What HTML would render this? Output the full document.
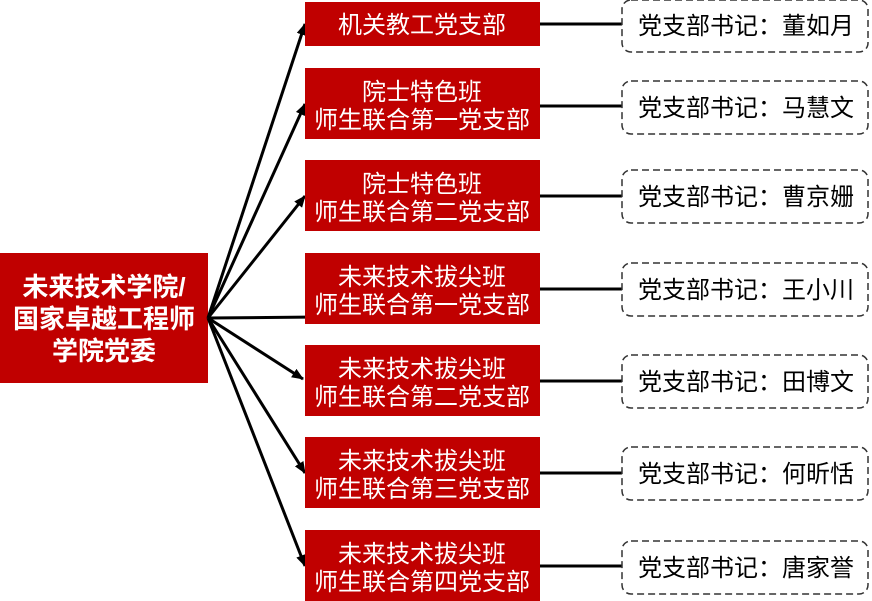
<!DOCTYPE html>
<html><head><meta charset="utf-8"><style>
html,body{margin:0;padding:0;background:#fff;}
svg{display:block;font-family:"Liberation Sans","Noto Sans CJK SC",sans-serif;}
</style></head><body>
<svg width="872" height="601" viewBox="0 0 872 601" xmlns="http://www.w3.org/2000/svg">
<defs><marker id="a" markerWidth="12" markerHeight="10" refX="11" refY="5" orient="auto" markerUnits="userSpaceOnUse"><path d="M0,0 L12,5 L0,10 Z" fill="#000"/></marker></defs>
<rect x="0" y="253" width="208" height="130" fill="#C00000"/>
<g fill="#fff" font-size="26" font-weight="bold" text-anchor="middle">
<text x="104" y="296">未来技术学院/</text>
<text x="104" y="328">国家卓越工程师</text>
<text x="104" y="360">学院党委</text>
</g>
<g stroke="#000" stroke-width="3" fill="none" marker-end="url(#a)">
<line x1="208" y1="318" x2="305" y2="24"/>
<line x1="208" y1="318" x2="305" y2="104"/>
<line x1="208" y1="318" x2="305" y2="196"/>
<line x1="208" y1="318" x2="318" y2="317"/>
<line x1="208" y1="318" x2="303" y2="379"/>
<line x1="208" y1="318" x2="305" y2="473"/>
<line x1="208" y1="318" x2="305" y2="566"/>
</g>
<g fill="#C00000">
<rect x="305" y="2" width="235" height="44"/>
<rect x="305" y="68" width="235" height="71"/>
<rect x="305" y="160" width="235" height="71"/>
<rect x="305" y="253" width="235" height="71"/>
<rect x="305" y="345" width="235" height="71"/>
<rect x="305" y="437" width="235" height="71"/>
<rect x="305" y="530" width="235" height="71"/>
</g>
<g fill="#fff" font-size="24" text-anchor="middle">
<text x="422" y="33">机关教工党支部</text>
<text x="422" y="100">院士特色班</text><text x="422" y="128">师生联合第一党支部</text>
<text x="422" y="192">院士特色班</text><text x="422" y="220">师生联合第二党支部</text>
<text x="422" y="285">未来技术拔尖班</text><text x="422" y="313">师生联合第一党支部</text>
<text x="422" y="377">未来技术拔尖班</text><text x="422" y="405">师生联合第二党支部</text>
<text x="422" y="469">未来技术拔尖班</text><text x="422" y="497">师生联合第三党支部</text>
<text x="422" y="562">未来技术拔尖班</text><text x="422" y="590">师生联合第四党支部</text>
</g>
<g stroke="#000" stroke-width="3">
<line x1="540" y1="24" x2="622" y2="24"/>
<line x1="540" y1="106" x2="622" y2="106"/>
<line x1="540" y1="196" x2="622" y2="196"/>
<line x1="540" y1="289" x2="622" y2="289"/>
<line x1="540" y1="381" x2="622" y2="381"/>
<line x1="540" y1="473" x2="622" y2="473"/>
<line x1="540" y1="566" x2="622" y2="566"/>
</g>
<g fill="#fff" stroke="#333" stroke-width="1.5" stroke-dasharray="7,4">
<rect x="622" y="0" width="246" height="52" rx="9"/>
<rect x="622" y="81" width="246" height="53" rx="9"/>
<rect x="622" y="170" width="246" height="53" rx="9"/>
<rect x="622" y="263" width="246" height="53" rx="9"/>
<rect x="622" y="355" width="246" height="53" rx="9"/>
<rect x="622" y="447" width="246" height="53" rx="9"/>
<rect x="622" y="541" width="246" height="53" rx="9"/>
</g>
<g fill="#000" font-size="24" text-anchor="middle">
<text x="746" y="34">党支部书记：董如月</text>
<text x="746" y="116">党支部书记：马慧文</text>
<text x="746" y="205">党支部书记：曹京姗</text>
<text x="746" y="298">党支部书记：王小川</text>
<text x="746" y="390">党支部书记：田博文</text>
<text x="746" y="482">党支部书记：何昕恬</text>
<text x="746" y="576">党支部书记：唐家誉</text>
</g>
</svg>
</body></html>
